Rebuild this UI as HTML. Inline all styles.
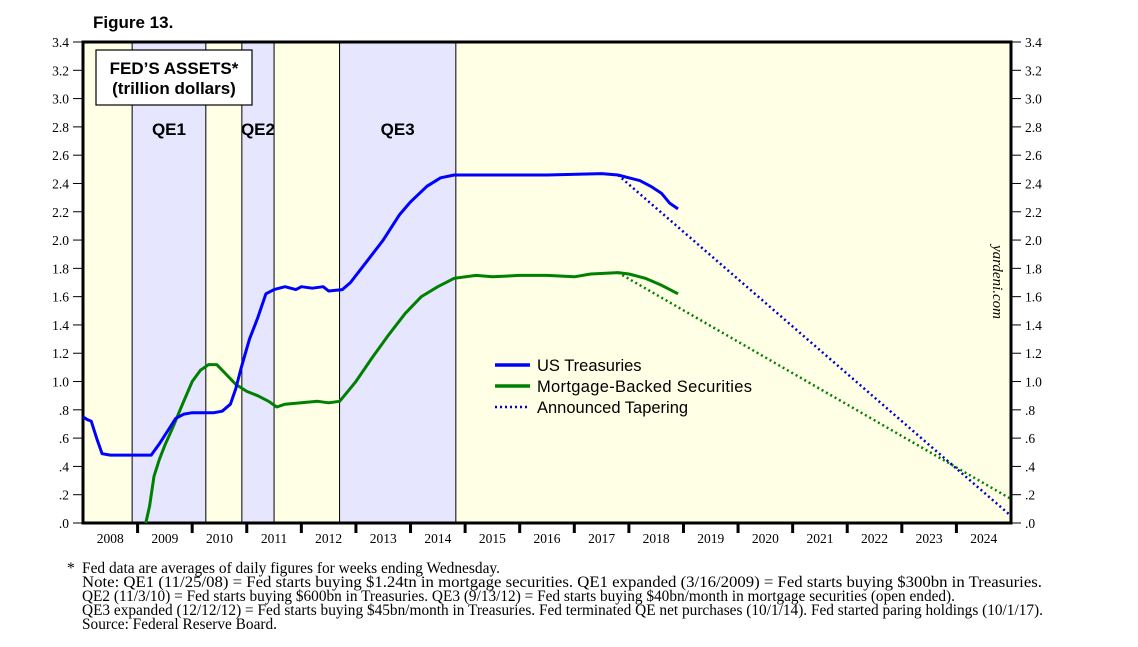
<!DOCTYPE html>
<html><head><meta charset="utf-8"><style>
body{margin:0;background:#fff;width:1138px;height:647px;overflow:hidden}
svg{display:block}
.ax{font-family:"Liberation Serif",serif;font-size:13.5px}
</style></head><body>
<svg id="c" width="1138" height="647">
<text x="93" y="28" font-family="Liberation Sans,sans-serif" font-weight="bold" font-size="17">Figure 13.</text>
<g id="bands"></g>
<g id="grid"></g>
<g id="series"></g>
<rect x="96" y="50" width="156" height="55" fill="#fff" stroke="#000" stroke-width="1.2"/>
<text x="174" y="74" text-anchor="middle" font-family="Liberation Sans,sans-serif" font-weight="bold" font-size="17">FED’S ASSETS*</text>
<text x="174" y="94" text-anchor="middle" font-family="Liberation Sans,sans-serif" font-weight="bold" font-size="17">(trillion dollars)</text>
<text x="993" y="282" transform="rotate(90 993 282)" text-anchor="middle" font-family="Liberation Serif,serif" font-style="italic" font-size="15">yardeni.com</text>
<g>
<line x1="495" y1="365" x2="530" y2="365" stroke="#0000ff" stroke-width="3.5"/>
<text x="537" y="371" font-family="Liberation Sans,sans-serif" font-size="16.5">US Treasuries</text>
<line x1="495" y1="386" x2="530" y2="386" stroke="#008000" stroke-width="3.5"/>
<text x="537" y="392" font-family="Liberation Sans,sans-serif" font-size="16.5" textLength="215">Mortgage-Backed Securities</text>
<line x1="495" y1="407" x2="530" y2="407" stroke="#0000cc" stroke-width="2.5" stroke-dasharray="2,3"/>
<text x="537" y="413" font-family="Liberation Sans,sans-serif" font-size="16.5">Announced Tapering</text>
</g>
<g font-family="Liberation Serif,serif" font-size="15.5">
<text x="67" y="573">*</text>
<text x="82" y="573" textLength="418" lengthAdjust="spacingAndGlyphs">Fed data are averages of daily figures for weeks ending Wednesday.</text>
<text x="82" y="587" textLength="960" lengthAdjust="spacingAndGlyphs">Note: QE1 (11/25/08) = Fed starts buying $1.24tn in mortgage securities. QE1 expanded (3/16/2009) = Fed starts buying $300bn in Treasuries.</text>
<text x="82" y="601" textLength="873" lengthAdjust="spacingAndGlyphs">QE2 (11/3/10) = Fed starts buying $600bn in Treasuries. QE3 (9/13/12) = Fed starts buying $40bn/month in mortgage securities (open ended).</text>
<text x="82" y="615" textLength="961" lengthAdjust="spacingAndGlyphs">QE3 expanded (12/12/12) = Fed starts buying $45bn/month in Treasuries. Fed terminated QE net purchases (10/1/14). Fed started paring holdings (10/1/17).</text>
<text x="82" y="629" textLength="195" lengthAdjust="spacingAndGlyphs">Source: Federal Reserve Board.</text>
</g>
</svg>
<script>
const years=[2008,2009,2010,2011,2012,2013,2014,2015,2016,2017,2018,2019,2020,2021,2022,2023,2024];
const yTicks=[0,0.2,0.4,0.6,0.8,1.0,1.2,1.4,1.6,1.8,2.0,2.2,2.4,2.6,2.8,3.0,3.2,3.4];
const yLabels=[".0",".2",".4",".6",".8","1.0","1.2","1.4","1.6","1.8","2.0","2.2","2.4","2.6","2.8","3.0","3.2","3.4"];
const qeStarts=[2008.9,2010.91,2012.7];
const qeEnds=[2010.25,2011.5,2014.83];
const qeNames=["QE1","QE2","QE3"];
const tsyT=[2008.0,2008.08,2008.15,2008.25,2008.35,2008.5,2009.0,2009.25,2009.4,2009.55,2009.7,2009.85,2010.0,2010.4,2010.55,2010.7,2010.8,2010.9,2011.05,2011.2,2011.35,2011.5,2011.7,2011.9,2012.0,2012.2,2012.4,2012.5,2012.75,2012.9,2013.2,2013.5,2013.8,2014.0,2014.3,2014.55,2014.8,2015.5,2016.5,2017.5,2017.8,2018.0,2018.2,2018.4,2018.6,2018.75,2018.9];
const tsyV=[0.75,0.73,0.72,0.6,0.49,0.48,0.48,0.48,0.56,0.65,0.74,0.77,0.78,0.78,0.79,0.84,0.95,1.1,1.3,1.45,1.62,1.65,1.67,1.65,1.67,1.66,1.67,1.64,1.65,1.7,1.85,2.0,2.18,2.27,2.38,2.44,2.46,2.46,2.46,2.47,2.46,2.44,2.42,2.38,2.33,2.26,2.22];
const mbsT=[2009.15,2009.22,2009.3,2009.4,2009.5,2009.65,2009.8,2010.0,2010.15,2010.3,2010.45,2010.6,2010.8,2011.0,2011.2,2011.4,2011.55,2011.7,2012.0,2012.3,2012.5,2012.7,2012.85,2013.0,2013.3,2013.6,2013.9,2014.2,2014.5,2014.8,2015.2,2015.5,2016.0,2016.5,2017.0,2017.3,2017.8,2018.0,2018.3,2018.6,2018.9];
const mbsV=[0.0,0.12,0.33,0.45,0.55,0.68,0.82,1.0,1.08,1.12,1.12,1.06,0.98,0.93,0.9,0.86,0.82,0.84,0.85,0.86,0.85,0.86,0.93,1.0,1.17,1.33,1.48,1.6,1.67,1.73,1.75,1.74,1.75,1.75,1.74,1.76,1.77,1.76,1.73,1.68,1.62];
const taperT=[2017.8,2025.0];
const taperTsy=[2.46,0.05];
const taperMbs=[1.77,0.17];

const L=83,R=1011,T=42,B=523,t0=2008,t1=2025,ymax=3.4;
const X=t=>L+(t-t0)/(t1-t0)*(R-L);
const Y=v=>B-v/ymax*(B-T);
const NS="http://www.w3.org/2000/svg";
function mk(tag,parent,attrs){const e=document.createElementNS(NS,tag);for(const k in attrs)e.setAttribute(k,attrs[k]);document.getElementById(parent).appendChild(e);return e;}

let bg=mk('rect','bands',{x:L,y:T,width:R-L,height:B-T,fill:'#ffffe6'});


for(let i=0;i<qeStarts.length;i++){
  const x1=X(qeStarts[i]),x2=X(qeEnds[i]);
  const r=mk('rect','bands',{x:x1,y:T,width:x2-x1,height:B-T,fill:'#e6e6ff',stroke:'#000','stroke-width':1});
  
  
  const tx=mk('text','bands',{x:(x1+x2)/2,y:135,'text-anchor':'middle','font-family':'Liberation Sans,sans-serif','font-weight':'bold','font-size':17});
  tx.textContent=qeNames[i];
  
  
}
for(let i=0;i<years.length;i++){
  const x=X(years[i]);
  if(i>0){const tk=mk('line','grid',{x1:x,y1:B,x2:x,y2:B+10,stroke:'#000','stroke-width':3});
  
  }
  const lb=mk('text','grid',{x:x+27.3,y:B+20,'text-anchor':'middle',class:'ax','font-size':14.5});
  lb.textContent=years[i];
  
  
}
for(let i=0;i<yTicks.length;i++){
  const y=Y(yTicks[i]);
  const a=mk('line','grid',{x1:L-10,y1:y,x2:L,y2:y,stroke:'#000','stroke-width':1});
  
  
  const b=mk('line','grid',{x1:R,y1:y,x2:R+10,y2:y,stroke:'#000','stroke-width':1});
  
  
  const l1=mk('text','grid',{x:L-14,y:y+5,'text-anchor':'end',class:'ax'});l1.textContent=yLabels[i];
  
  
  const l2=mk('text','grid',{x:R+14,y:y+5,class:'ax'});l2.textContent=yLabels[i];
  
  
}
const fr=mk('rect','grid',{x:L,y:T,width:R-L,height:B-T,fill:'none',stroke:'#000','stroke-width':3});



function path(ts,vs){return ts.map((t,i)=>(i?'L':'M')+X(t).toFixed(1)+','+Y(vs[i]).toFixed(1)).join('');}
let p;
p=mk('path','series',{d:path(taperT,taperMbs),fill:'none',stroke:'#008000','stroke-width':2.5,'stroke-dasharray':'2,3'});


p=mk('path','series',{d:path(taperT,taperTsy),fill:'none',stroke:'#0000cc','stroke-width':2.5,'stroke-dasharray':'2,3'});


p=mk('path','series',{d:path(mbsT,mbsV),fill:'none',stroke:'#008000','stroke-width':3,'stroke-linejoin':'round'});


p=mk('path','series',{d:path(tsyT,tsyV),fill:'none',stroke:'#0000ff','stroke-width':3,'stroke-linejoin':'round'});


</script>
</body></html>
